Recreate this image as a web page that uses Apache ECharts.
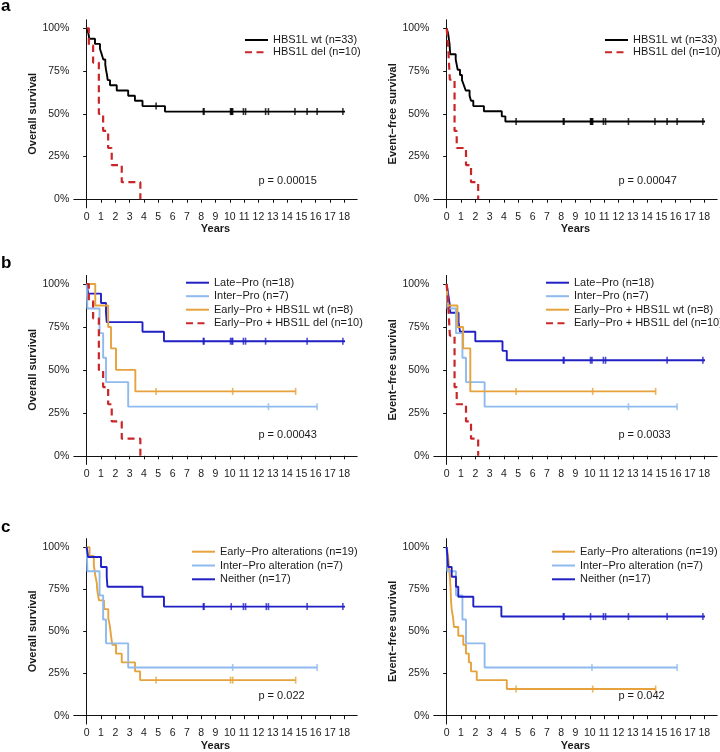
<!DOCTYPE html>
<html>
<head>
<meta charset="utf-8">
<script src="https://cdn.jsdelivr.net/npm/echarts@6/dist/echarts.min.js"></script>
<style>
html,body{margin:0;padding:0;background:#fff;}
#chart{width:720px;height:752px;}
</style>
</head>
<body>
<div id="chart"></div>
<script>
// ---------- axis ticks ----------
const xTicks = [0,1,2,3,4,5,6,7,8,9,10,11,12,13,14,15,16,17,18];
const yTicks = [0,0.25,0.5,0.75,1];
const yTickLabels = ['0%','25%','50%','75%','100%'];

// ---------- panel a : overall survival ----------
const aOS_wt_t = [0,0.12,0.18,0.58,0.93,1.05,1.16,1.3,1.35,1.42,1.47,1.63,2.1,2.9,3.37,3.9,5.47,18.05];
const aOS_wt_s = [1,0.97,0.939,0.909,0.879,0.848,0.818,0.788,0.758,0.727,0.697,0.667,0.636,0.606,0.576,0.545,0.513,0.513];
const aOS_wt_c = [4.85,8.15,8.2,10.05,10.1,10.15,10.2,10.95,11.1,12.5,12.7,14.55,15.4,16.1,17.9];
const aOS_del_t = [0,0.15,0.45,0.85,1.15,1.5,1.75,2.45,3.75];
const aOS_del_s = [1,0.9,0.8,0.5,0.4,0.3,0.2,0.1,0];

// ---------- panel a : event-free survival ----------
const aEFS_wt_t = [0,0.1,0.15,0.2,0.22,0.25,0.63,0.7,0.77,0.93,1.07,1.2,1.33,1.6,1.7,1.86,2.6,3.85,4.1,18.05];
const aEFS_wt_s = [1,0.97,0.939,0.909,0.879,0.848,0.818,0.788,0.758,0.727,0.697,0.667,0.636,0.606,0.576,0.545,0.515,0.485,0.455,0.455];
const aEFS_wt_c = [4.85,8.15,8.2,10.05,10.1,10.15,10.2,10.95,11.1,12.7,14.55,15.4,16.1,17.9];
const aEFS_del_t = [0,0.1,0.22,0.55,0.7,1.35,1.7,2.2];
const aEFS_del_s = [1,0.9,0.7,0.4,0.3,0.2,0.1,0];

// ---------- panel b : overall survival ----------
const bOS_late_t = [0,0.1,1.0,1.35,1.4,3.9,5.4,18.05];
const bOS_late_s = [1,0.944,0.889,0.833,0.778,0.722,0.667,0.667];
const bOS_late_c = [8.15,8.2,10.05,10.15,10.2,10.95,11.1,12.5,15.4,17.9];
const bOS_inter_t = [0,0.05,0.9,1.15,1.35,2.9,16.1];
const bOS_inter_s = [1,0.857,0.714,0.571,0.429,0.286,0.286];
const bOS_inter_c = [12.7,16.1];
const bOS_ewt_t = [0,0.6,1.5,1.7,2.05,3.4,14.6];
const bOS_ewt_s = [1,0.875,0.75,0.625,0.5,0.375,0.375];
const bOS_ewt_c = [4.85,10.2,14.6];
const bOS_edel_t = [0,0.15,0.45,0.85,1.15,1.5,1.75,2.45,3.75];
const bOS_edel_s = [1,0.9,0.8,0.5,0.4,0.3,0.2,0.1,0];

// ---------- panel b : event-free survival ----------
const bEFS_late_t = [0,0.1,0.2,0.25,0.83,0.93,2.0,3.9,4.2,18.05];
const bEFS_late_s = [1,0.944,0.889,0.833,0.778,0.722,0.667,0.611,0.556,0.556];
const bEFS_late_c = [8.15,8.2,10.05,10.15,10.95,11.1,15.4,17.9];
const bEFS_inter_t = [0,0.05,0.65,1.1,1.35,2.65,16.1];
const bEFS_inter_s = [1,0.857,0.714,0.571,0.429,0.286,0.286];
const bEFS_inter_c = [12.7,16.1];
const bEFS_ewt_t = [0,0.1,0.75,1.15,1.65,14.6];
const bEFS_ewt_s = [1,0.875,0.75,0.625,0.375,0.375];
const bEFS_ewt_c = [4.85,10.2,14.6];
const bEFS_edel_t = [0,0.1,0.22,0.55,0.7,1.35,1.7,2.2];
const bEFS_edel_s = [1,0.9,0.7,0.4,0.3,0.2,0.1,0];

// ---------- panel c : overall survival ----------
const cOS_early_t = [0,0.2,0.5,0.58,0.7,0.75,0.86,1.21,1.51,1.63,1.7,1.79,2.05,2.45,3.38,3.73,14.6];
const cOS_early_s = [1,0.947,0.895,0.842,0.789,0.737,0.684,0.632,0.579,0.526,0.474,0.421,0.368,0.316,0.263,0.211,0.211];
const cOS_early_c = [4.85,10.05,10.2,14.6];
const cOS_inter_t = [0,0.05,0.9,1.15,1.35,2.9,16.1];
const cOS_inter_s = [1,0.857,0.714,0.571,0.429,0.286,0.286];
const cOS_inter_c = [10.2,16.1];
const cOS_neither_t = [0,0.1,1.0,1.4,1.45,3.9,5.4,18.05];
const cOS_neither_s = [1,0.941,0.882,0.824,0.765,0.706,0.647,0.647];
const cOS_neither_c = [8.15,8.2,10.1,10.95,11.1,12.55,12.7,15.4,17.9];

// ---------- panel c : event-free survival ----------
const cEFS_early_t = [0,0.1,0.15,0.2,0.25,0.28,0.3,0.35,0.45,0.51,0.81,1.16,1.35,1.55,1.7,2.1,4.2,14.6];
const cEFS_early_s = [1,0.947,0.895,0.842,0.789,0.737,0.684,0.632,0.579,0.526,0.474,0.421,0.368,0.316,0.263,0.211,0.158,0.158];
const cEFS_early_c = [4.85,10.2,14.6];
const cEFS_inter_t = [0,0.05,0.65,1.1,1.35,2.65,16.1];
const cEFS_inter_s = [1,0.857,0.714,0.571,0.429,0.286,0.286];
const cEFS_inter_c = [10.15,16.1];
const cEFS_neither_t = [0,0.05,0.1,0.35,0.65,0.81,1.86,3.82,18.05];
const cEFS_neither_s = [1,0.941,0.882,0.824,0.765,0.706,0.647,0.588,0.588];
const cEFS_neither_c = [8.15,8.2,10.05,10.95,11.1,12.7,15.4,17.9];

// ---------- texts ----------
const pValues = ['p = 0.00015','p = 0.00047','p = 0.00043','p = 0.0033','p = 0.022','p = 0.042'];
const pValueY = [0.107,0.107,0.12,0.12,0.115,0.115];
const pValueX = 12;
const panelLetters = ['a','b','c'];
const yNames = ['Overall survival','Event\u2212free survival'];
const xName = 'Years';

// ---------- styles ----------
const C_BLACK = '#000000', C_RED = '#c9262a', C_DBLUE = '#2020c4', C_LBLUE = '#8fbaee', C_ORANGE = '#e6a23c';
const M = '\u2212';

const panels = [
  {curves:[
    {name:'HBS1L wt (n=33)', t:aOS_wt_t, s:aOS_wt_s, c:aOS_wt_c, color:C_BLACK},
    {name:'HBS1L del (n=10)', t:aOS_del_t, s:aOS_del_s, c:[], color:C_RED, dashed:true}]},
  {curves:[
    {name:'HBS1L wt (n=33)', t:aEFS_wt_t, s:aEFS_wt_s, c:aEFS_wt_c, color:C_BLACK},
    {name:'HBS1L del (n=10)', t:aEFS_del_t, s:aEFS_del_s, c:[], color:C_RED, dashed:true}]},
  {curves:[
    {name:'Late'+M+'Pro (n=18)', t:bOS_late_t, s:bOS_late_s, c:bOS_late_c, color:C_DBLUE},
    {name:'Inter'+M+'Pro (n=7)', t:bOS_inter_t, s:bOS_inter_s, c:bOS_inter_c, color:C_LBLUE},
    {name:'Early'+M+'Pro + HBS1L wt (n=8)', t:bOS_ewt_t, s:bOS_ewt_s, c:bOS_ewt_c, color:C_ORANGE},
    {name:'Early'+M+'Pro + HBS1L del (n=10)', t:bOS_edel_t, s:bOS_edel_s, c:[], color:C_RED, dashed:true}]},
  {curves:[
    {name:'Late'+M+'Pro (n=18)', t:bEFS_late_t, s:bEFS_late_s, c:bEFS_late_c, color:C_DBLUE},
    {name:'Inter'+M+'Pro (n=7)', t:bEFS_inter_t, s:bEFS_inter_s, c:bEFS_inter_c, color:C_LBLUE},
    {name:'Early'+M+'Pro + HBS1L wt (n=8)', t:bEFS_ewt_t, s:bEFS_ewt_s, c:bEFS_ewt_c, color:C_ORANGE},
    {name:'Early'+M+'Pro + HBS1L del (n=10)', t:bEFS_edel_t, s:bEFS_edel_s, c:[], color:C_RED, dashed:true}]},
  {curves:[
    {name:'Early'+M+'Pro alterations (n=19)', t:cOS_early_t, s:cOS_early_s, c:cOS_early_c, color:C_ORANGE},
    {name:'Inter'+M+'Pro alteration (n=7)', t:cOS_inter_t, s:cOS_inter_s, c:cOS_inter_c, color:C_LBLUE},
    {name:'Neither (n=17)', t:cOS_neither_t, s:cOS_neither_s, c:cOS_neither_c, color:C_DBLUE}]},
  {curves:[
    {name:'Early'+M+'Pro alterations (n=19)', t:cEFS_early_t, s:cEFS_early_s, c:cEFS_early_c, color:C_ORANGE},
    {name:'Inter'+M+'Pro alteration (n=7)', t:cEFS_inter_t, s:cEFS_inter_s, c:cEFS_inter_c, color:C_LBLUE},
    {name:'Neither (n=17)', t:cEFS_neither_t, s:cEFS_neither_s, c:cEFS_neither_c, color:C_DBLUE}]}
];

// layout
const FONT = 'Liberation Sans, Arial, Helvetica, sans-serif';
const TXT = '#1a1a1a';
const gridLefts = [73.8, 433.8];
const rowTops = [19.8, 275.4, 538.7];
const rowHeights = [188, 189, 188.5];
const legendPos = [
  {left:244, top:34, gap:0.3}, {left:604, top:34, gap:0.3},
  {left:185, top:276.7, gap:1.5}, {left:545, top:276.7, gap:1.5},
  {left:191, top:545.7, gap:1.8}, {left:551, top:545.7, gap:1.8}
];

function survAt(t, s, x){
  let v = s[0];
  for (let i=0;i<t.length;i++){ if (t[i] <= x) v = s[i]; }
  return v;
}

const grids = [], xAxes = [], yAxes = [], series = [], legends = [];
panels.forEach((p, i) => {
  const row = Math.floor(i/2), col = i%2;
  grids.push({left:gridLefts[col], top:rowTops[row], width:283.4, height:rowHeights[row]});
  xAxes.push({
    type:'value', gridIndex:i, min:-0.9, max:18.9,
    name: (row===1) ? '' : xName, nameLocation:'middle', nameGap:15,
    nameTextStyle:{fontFamily:FONT, fontSize:11, fontWeight:'bold', color:TXT},
    axisLine:{show:true, lineStyle:{color:'#111', width:1}},
    axisTick:{show:true, length:3.5, customValues:xTicks, lineStyle:{color:'#111'}},
    axisLabel:{show:true, margin:4, customValues:xTicks, fontFamily:FONT, fontSize:10.5, color:TXT},
    splitLine:{show:false}
  });
  yAxes.push({
    type:'value', gridIndex:i, min:-0.05, max:1.05,
    name:yNames[col], nameLocation:'middle', nameGap:34,
    nameTextStyle:{fontFamily:FONT, fontSize:11, fontWeight:'bold', color:TXT},
    axisLine:{show:true, lineStyle:{color:'#111', width:1}},
    axisTick:{show:true, length:3.5, customValues:yTicks, lineStyle:{color:'#111'}},
    axisLabel:{show:true, margin:4.5, customValues:yTicks, fontFamily:FONT, fontSize:10.5, color:TXT,
      formatter: v => { const k = yTicks.findIndex(y => Math.abs(y - v) < 1e-9); return k >= 0 ? yTickLabels[k] : ''; }},
    splitLine:{show:false}
  });
  p.curves.forEach((cv, k) => {
    series.push({
      type:'line', name:cv.name, xAxisIndex:i, yAxisIndex:i, step:'end',
      symbol:'none', showSymbol:false, animation:false, z:2+k,
      data: cv.t.map((x, j) => [x, cv.s[j]]),
      lineStyle:{color:cv.color, width: cv.dashed ? 2.2 : 1.9, type: cv.dashed ? [7,4.5] : 'solid'},
      itemStyle:{color:cv.color}
    });
    if (cv.c.length){
      series.push({
        type:'scatter', name:cv.name + ' censored', xAxisIndex:i, yAxisIndex:i,
        symbol:'rect', symbolSize:[1.6,7], animation:false, z:2+k, silent:true,
        data: cv.c.map(x => [x, survAt(cv.t, cv.s, x)]),
        itemStyle:{color:cv.color}
      });
    }
  });
  legends.push({
    data: p.curves.map(cv => cv.name), orient:'vertical',
    left:legendPos[i].left, top:legendPos[i].top, padding:0,
    itemWidth:23, itemHeight:12, itemGap:legendPos[i].gap, selectedMode:false,
    itemStyle:{opacity:0},
    textStyle:{fontFamily:FONT, fontSize:11, color:TXT, lineHeight:12}
  });
});

const chart = echarts.init(document.getElementById('chart'), null, {renderer:'canvas'});
chart.setOption({
  animation:false, backgroundColor:'#ffffff',
  grid:grids, xAxis:xAxes, yAxis:yAxes, series:series, legend:legends
});

// panel letters and p-values
const graphics = [];
const letterY = [6.3, 263, 527];
panelLetters.forEach((l, r) => {
  graphics.push({type:'text', x:1, y:letterY[r], z:10,
    style:{text:l, fontFamily:FONT, fontSize:17, fontWeight:'bold', fill:'#000', verticalAlign:'middle', align:'left'}});
});
pValues.forEach((pv, i) => {
  const px = chart.convertToPixel({gridIndex:i}, [pValueX, pValueY[i]]);
  graphics.push({type:'text', x:px[0], y:px[1], z:10,
    style:{text:pv, fontFamily:FONT, fontSize:11, fill:TXT, verticalAlign:'middle', align:'left'}});
});
chart.setOption({graphic:graphics});
</script>
</body>
</html>
